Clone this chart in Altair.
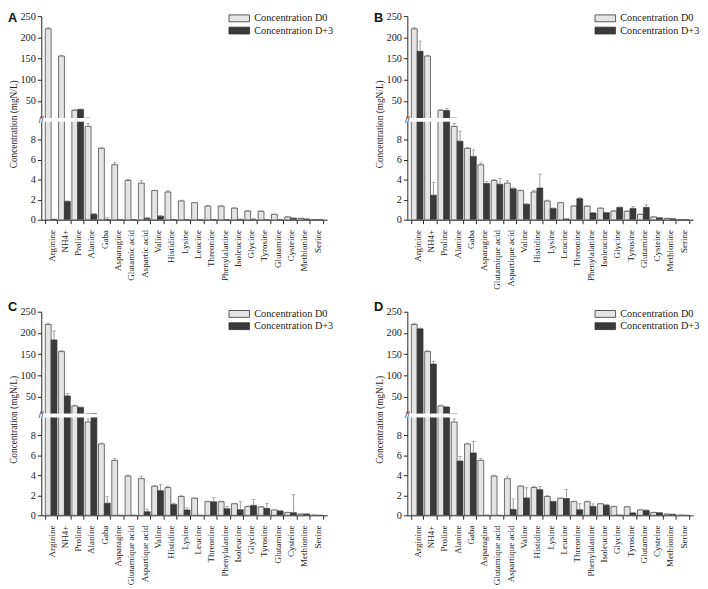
import altair as alt
import pandas as pd

amino_a = ["Arginine", "NH4+", "Proline", "Alanine", "Gaba", "Asparagine", "Glutamic acid",
           "Aspartic acid", "Valine", "Histidine", "Lysine", "Leucine", "Threonine",
           "Phenylalanine", "Isoleucine", "Glycine", "Tyrosine", "Glutamine", "Cysteine",
           "Methionine", "Serine"]
amino_bcd = ["Arginine", "NH4+", "Proline", "Alanine", "Gaba", "Asparagine", "Glutamique acid",
             "Aspartique acid", "Valine", "Histidine", "Lysine", "Leucine", "Threonine",
             "Phenylalanine", "Isoleucine", "Glycine", "Tyrosine", "Glutamine", "Cysteine",
             "Methionine", "Serine"]
series = ["Concentration D0", "Concentration D+3"]

d0 = [220, 156, 28, 9.35, 7.15, 5.5, 3.93, 3.67, 2.92, 2.78, 1.88, 1.71, 1.37, 1.36, 1.16,
      0.87, 0.85, 0.54, 0.28, 0.13, 0.02]
d0_err = [3, 2, 1.5, 0.3, 0.08, 0.2, 0.1, 0.25, 0.05, 0.15, 0.08, 0.03, 0.05, 0.05, 0.03,
          0.05, 0.03, 0.03, 0.03, 0.02, 0]

d3_a = [0.04, 1.83, 30, 0.56, 0.02, 0, 0, 0.15, 0.36, 0, 0, 0, 0, 0, 0.04, 0, 0, 0, 0.15, 0.07, 0]
err_a = [0, 0.05, 1.5, 0.05, 0.2, 0, 0, 0.05, 0.05, 0, 0, 0, 0, 0, 0.02, 0.12, 0, 0, 0.03, 0.02, 0]

d3_b = [167, 2.46, 27.5, 7.87, 6.34, 3.62, 3.56, 3.1, 1.55, 3.17, 1.13, 0.08, 2.1, 0.68, 0.71,
        1.23, 1.13, 1.23, 0.19, 0.1, 0]
err_b = [24, 1.26, 5, 1.0, 0.65, 0.2, 0.55, 0.1, 0.05, 1.4, 0.05, 0, 0.1, 0.03, 0.03, 0.05,
         0.2, 0.25, 0.02, 0.02, 0]

d3_c = [183.6, 51.6, 24.4, 9.82, 1.22, 0, 0, 0.36, 2.47, 1.09, 0.53, 0, 1.35, 0.66, 0.56, 0.99,
        0.69, 0.43, 0.26, 0.13, 0]
err_c = [21, 6, 1, 0.6, 0.65, 0, 0, 0.26, 0.6, 0.12, 0.22, 0, 0.4, 0.23, 0.82, 0.6, 0.5, 0.05,
         1.8, 0.02, 0]

d3_d = [209.6, 126.6, 25.3, 5.43, 6.25, 0, 0, 0.59, 1.74, 2.57, 1.38, 1.68, 0.56, 0.89, 1.02,
        0.02, 0.23, 0.49, 0.26, 0.1, 0]
err_d = [2, 6, 1, 0.47, 1.15, 0, 0, 1.05, 1.02, 0.33, 0.05, 0.92, 0.6, 0.26, 0.05, 0, 0.03,
         0.05, 0.03, 0.02, 0]

FONT = "Liberation Serif"
TXT = "#222222"
W, HU, HL = 292, 104, 100


def panel(letter, cats, d3, e3, letter_y):
    rows = []
    for i, c in enumerate(cats):
        rows.append({"aa": c, "series": series[0], "val": d0[i], "hi": d0[i] + d0_err[i], "err": d0_err[i]})
        rows.append({"aa": c, "series": series[1], "val": d3[i], "hi": d3[i] + e3[i], "err": e3[i]})
    df = pd.DataFrame(rows)
    dfe = df[df["err"] > 0]

    xscale = alt.Scale(paddingInner=0.12, paddingOuter=0.3)
    xoff = alt.XOffset("series:N", sort=series, scale=alt.Scale(domain=series, paddingInner=0))

    def layers(ydom, yaxis, xaxis, legend):
        ysc = alt.Scale(domain=ydom, nice=False, zero=False)
        xenc = alt.X("aa:N", sort=cats, scale=xscale, axis=xaxis)
        bars = alt.Chart(df).mark_bar(clip=True, stroke="#333333", strokeWidth=0.7).encode(
            x=xenc, xOffset=xoff, y=alt.Y("val:Q", scale=ysc, axis=yaxis),
            color=alt.Color("series:N", scale=alt.Scale(domain=series, range=["#e4e4e4", "#3a3a3a"]),
                            legend=legend),
        )
        rule = alt.Chart(dfe).mark_rule(clip=True, color="#808080", strokeWidth=0.8).encode(
            x=xenc, xOffset=xoff,
            y=alt.Y("val:Q", scale=ysc, axis=yaxis), y2="hi:Q")
        cap = alt.Chart(dfe).mark_tick(clip=True, color="#808080", orient="horizontal", size=4,
                                       thickness=0.8).encode(
            x=xenc, xOffset=xoff,
            y=alt.Y("hi:Q", scale=ysc, axis=yaxis))
        return [bars, rule, cap]

    legend = alt.Legend(title=None, orient="none", legendX=W - 102, legendY=-3,
                        symbolType="M-1,-1H5V1H-1Z", symbolSize=49,
                        symbolStrokeColor="#333333", symbolStrokeWidth=0.8,
                        labelFont=FONT, labelFontSize=10.5, labelColor=TXT, rowPadding=1.5,
                        labelOffset=17)
    uaxis = alt.Axis(values=[50, 100, 150, 200, 250], title=None)
    laxis = alt.Axis(values=[0, 2, 4, 6, 8], title="Concentration (mgN/L)", titleY=2,
                     titleX=-33, titleBaseline="top", titleAngle=-90)
    xaxis = alt.Axis(title=None, labelAngle=-90, tickBand="extent", labelPadding=6,
                     labelFontSize=9.2)

    letter_df = pd.DataFrame({"t": [letter]})
    letter_mark = alt.Chart(letter_df).mark_text(
        align="left", baseline="top", fontSize=13, fontWeight="bold",
        font="Liberation Sans", color="#111111").encode(
        text="t:N", x=alt.value(-34), y=alt.value(letter_y))
    brk = alt.Chart(letter_df).mark_text(text="//", fontSize=9, color="#333333").encode(
        x=alt.value(0), y=alt.value(-2))

    upper = alt.layer(*layers([10, 250], uaxis, None, legend), letter_mark).properties(width=W, height=HU)
    lower = alt.layer(*layers([0, 9.8], laxis, xaxis, None), brk).properties(width=W, height=HL)
    return alt.vconcat(upper, lower, spacing=4, bounds="flush").resolve_scale(
        y="independent", color="independent")


pA = panel("A", amino_a, d3_a, err_a, -4)
pB = panel("B", amino_bcd, d3_b, err_b, -4)
pC = panel("C", amino_bcd, d3_c, err_c, -11)
pD = panel("D", amino_bcd, d3_d, err_d, -11)

chart = alt.vconcat(
    alt.hconcat(pA, pB, spacing=41).resolve_scale(color="independent", y="independent"),
    alt.hconcat(pC, pD, spacing=41).resolve_scale(color="independent", y="independent"),
    spacing=12,
).resolve_scale(color="independent", y="independent").properties(
    background="white", padding={"left": 0, "top": -3, "right": 0, "bottom": 0}
).configure_axis(
    labelFont=FONT, titleFont=FONT, labelFontSize=10.5, titleFontSize=9.5,
    labelColor=TXT, titleColor=TXT, domainColor="#222222", tickColor="#222222",
    titleFontWeight="normal", grid=False, tickSize=4,
).configure_view(stroke=None)

chart.save("out.html", embed_options={"renderer": "svg", "actions": False})
